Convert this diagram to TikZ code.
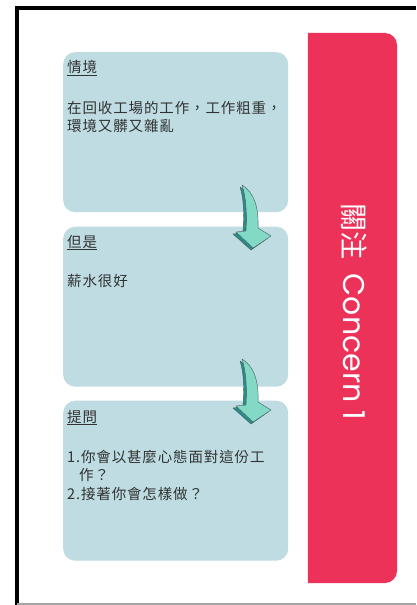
\documentclass[tikz,border=0pt]{standalone}
\usepackage{fontspec}
\newfontfamily\cjk[Script=CJK,Language=Chinese Traditional,LetterSpace=6]{Noto Sans CJK TC}
\newfontfamily\cjkplain{Noto Sans CJK TC}
\newfontfamily\titlefont{Poppins}
\definecolor{cRed}{RGB}{237,50,90}
\definecolor{cBlue}{RGB}{190,220,226}
\definecolor{cText}{RGB}{50,50,50}
\definecolor{cFace}{RGB}{130,218,198}
\definecolor{cSide}{RGB}{42,140,136}
\definecolor{cEdge}{RGB}{70,90,90}
\tikzset{
  panel/.style={fill=cBlue, rounded corners=12pt, minimum width=225pt, minimum height=160pt, anchor=north west, inner sep=0pt},
  txt/.style={anchor=base west, inner sep=0pt, text=cText, font=\cjk\fontsize{14.5pt}{18pt}\selectfont},
  ttl/.style={txt},
}
\newcommand{\downarrowshape}[1]{%
  \begin{scope}[shift={(0,#1)}]
    \fill[cSide, draw=cEdge, line width=0.4pt, line join=round]
      (240,187) .. controls (252,194) and (256,210) .. (255,230) -- (268,238) -- (251,250) -- (233,234) -- (243,233) .. controls (244,214) and (244,199) .. (240,187) -- cycle;
    \fill[cFace, draw=cEdge, line width=0.4pt, line join=round]
      (242,185) .. controls (254,192) and (259,208) .. (258,228) -- (271,236) -- (253,248) -- (236,232) -- (246,231) .. controls (247,212) and (246,197) .. (242,185) -- cycle;
  \end{scope}}
\begin{document}
\begin{tikzpicture}[x=1pt,y=-1pt]
\useasboundingbox (0,0) rectangle (416,605);
\fill[white] (0,0) rectangle (416,605);
% frame
\draw[black, line width=3.5pt] (15,8) -- (416,8);
\draw[black, line width=4pt] (17,6.5) -- (17,605);
\draw[gray!70, line width=2pt] (17,604) -- (416,604);
% red band
\node[minimum width=89pt, minimum height=550pt, inner sep=0pt] (concern) at (352.5,308) {};
\fill[cRed] (concern.north west) -- (385,33) arc[start angle=270, end angle=360, radius=12] -- (397,571) arc[start angle=0, end angle=90, radius=12] -- (concern.south west) -- cycle;
\node[rotate=-90, text=white, inner sep=0pt] (concernlabel) at (354,312) {\cjkplain\fontsize{28pt}{30pt}\selectfont 關注\hspace{14pt}\titlefont\fontsize{30pt}{32pt}\selectfont Concern 1};
% panels
\node[panel] (p1) at (63,52) {};
\node[panel] (p2) at (63,226.5) {};
\node[panel] (p3) at (63,400.5) {};
% arrows
\downarrowshape{0}
\downarrowshape{174}
% texts
\node[ttl] (t1) at (67,72) {\underline{情境}};
\node[txt] (b1a) at (67,113) {在回收工場的工作，工作粗重，};
\node[txt] (b1b) at (67,131) {環境又髒又雜亂};
\node[ttl] (t2) at (67,247) {\underline{但是}};
\node[txt] (b2) at (67,286) {薪水很好};
\node[ttl] (t3) at (67,422) {\underline{提問}};
\node[txt] (b3a) at (67,462) {1.你會以甚麼心態面對這份工};
\node[txt] (b3b) at (79,480) {作？};
\node[txt] (b3c) at (67,499) {2.接著你會怎樣做？};
\end{tikzpicture}
\end{document}
